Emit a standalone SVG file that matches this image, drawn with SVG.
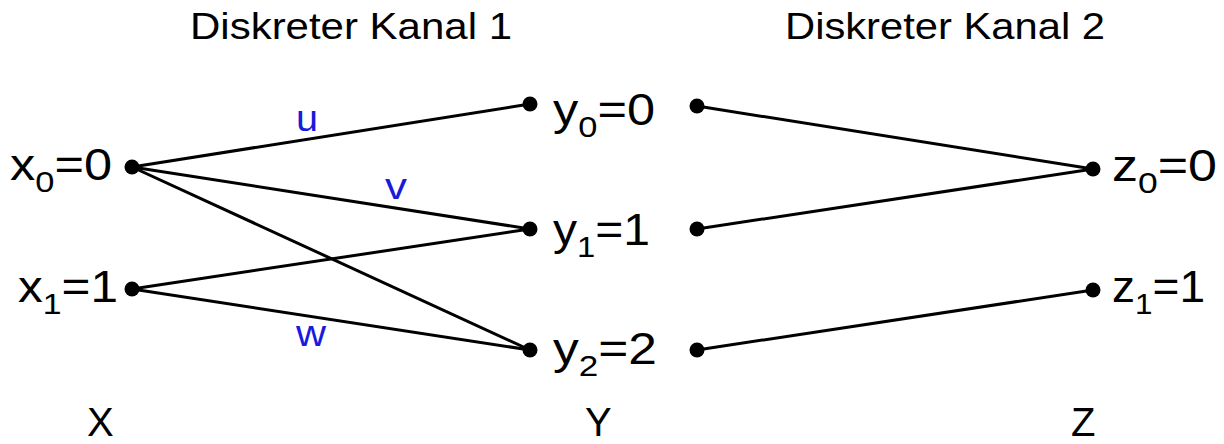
<svg xmlns="http://www.w3.org/2000/svg" width="1224" height="444" viewBox="0 0 1224 444">
<style>
text{font-family:"Liberation Sans",Arial,sans-serif;fill:#000}
.t{font-size:36px}
.n{font-size:44px}
.s{font-size:30px}
.lab{font-size:36px;fill:#1a1adc}
.ax{font-size:40px}
line{stroke:#000;stroke-width:3;stroke-linecap:round}
circle{fill:#000}
</style>
<rect width="1224" height="444" fill="#fff"/>
<text class="t" x="190" y="39" textLength="322" lengthAdjust="spacingAndGlyphs">Diskreter Kanal 1</text>
<text class="t" x="785" y="39" textLength="320" lengthAdjust="spacingAndGlyphs">Diskreter Kanal 2</text>
<g id="connectors">
<line x1="132" y1="167" x2="530" y2="104"/>
<line x1="132" y1="167" x2="530" y2="229"/>
<line x1="132" y1="167" x2="530" y2="350"/>
<line x1="132" y1="289" x2="530" y2="229"/>
<line x1="132" y1="289" x2="530" y2="350"/>
<line x1="697" y1="106" x2="1093" y2="169"/>
<line x1="697" y1="229" x2="1093" y2="169"/>
<line x1="697" y1="350" x2="1093" y2="290"/>
<text class="lab" x="296" y="131" textLength="22" lengthAdjust="spacingAndGlyphs">u</text>
<text class="lab" x="385" y="199" textLength="22" lengthAdjust="spacingAndGlyphs">v</text>
<text class="lab" x="296" y="346" textLength="30" lengthAdjust="spacingAndGlyphs">w</text>
</g>
<g id="x0"><circle cx="132" cy="167" r="7.5"/><text class="n" x="10" y="180" textLength="102" lengthAdjust="spacingAndGlyphs">x<tspan class="s" dy="12">0</tspan><tspan dy="-12">=0</tspan></text></g>
<g id="x1"><circle cx="132" cy="289" r="7.5"/><text class="n" x="18" y="302" textLength="100" lengthAdjust="spacingAndGlyphs">x<tspan class="s" dy="12">1</tspan><tspan dy="-12">=1</tspan></text></g>
<g id="y0"><circle cx="530" cy="104" r="7.5"/><circle cx="697" cy="106" r="7.5"/><text class="n" x="553" y="125" textLength="102" lengthAdjust="spacingAndGlyphs">y<tspan class="s" dy="12">0</tspan><tspan dy="-12">=0</tspan></text></g>
<g id="y1"><circle cx="530" cy="229" r="7.5"/><circle cx="697" cy="229" r="7.5"/><text class="n" x="553" y="245" textLength="97" lengthAdjust="spacingAndGlyphs">y<tspan class="s" dy="12">1</tspan><tspan dy="-12">=1</tspan></text></g>
<g id="y2"><circle cx="530" cy="350" r="7.5"/><circle cx="697" cy="350" r="7.5"/><text class="n" x="553" y="364" textLength="104" lengthAdjust="spacingAndGlyphs">y<tspan class="s" dy="12">2</tspan><tspan dy="-12">=2</tspan></text></g>
<g id="z0"><circle cx="1093" cy="169" r="7.5"/><text class="n" x="1112" y="181" textLength="105" lengthAdjust="spacingAndGlyphs">z<tspan class="s" dy="12">0</tspan><tspan dy="-12">=0</tspan></text></g>
<g id="z1"><circle cx="1093" cy="290" r="7.5"/><text class="n" x="1112" y="302" textLength="93" lengthAdjust="spacingAndGlyphs">z<tspan class="s" dy="12">1</tspan><tspan dy="-12">=1</tspan></text></g>
<text class="ax" x="87" y="436">X</text>
<text class="ax" x="585" y="436">Y</text>
<text class="ax" x="1071" y="436">Z</text>
</svg>
